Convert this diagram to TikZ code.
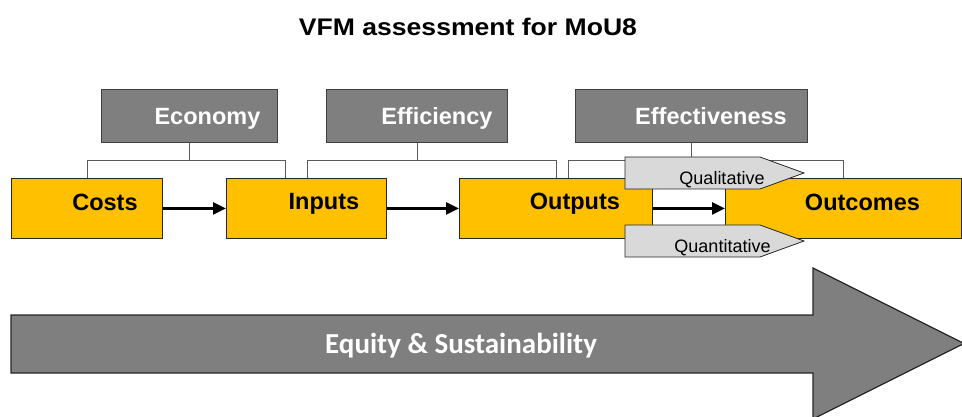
\documentclass[tikz,border=0pt]{standalone}
\usepackage{fontspec}
\setmainfont{Liberation Sans}
\newfontfamily\carlitofont{Carlito}
\usetikzlibrary{arrows.meta}
\definecolor{hdrgray}{HTML}{7F7F7F}
\definecolor{boxyellow}{HTML}{FFC000}
\definecolor{sigfill}{HTML}{D9D9D9}
\definecolor{edgegray}{HTML}{404040}
\definecolor{conngray}{HTML}{595959}
\begin{document}
\begin{tikzpicture}[x=1pt,y=-1pt,
  hdr/.style={draw=edgegray, fill=hdrgray, line width=0.9pt, minimum width=#1, minimum height=53pt, inner sep=0pt, anchor=north west},
  hlbl/.style={anchor=base, text=white, inner sep=0pt, font=\fontsize{23.5}{28}\selectfont\bfseries},
  ybox/.style={draw=black!85, fill=boxyellow, line width=0.9pt, minimum width=#1, minimum height=60pt, inner sep=0pt, anchor=north west},
  ylbl/.style={anchor=base, text=black, inner sep=0pt, font=\fontsize{23.5}{28}\selectfont\bfseries},
  conn/.style={draw=conngray, line width=0.9pt},
  flow/.style={draw=black, line width=2.7pt, -{Triangle[length=13pt,width=12pt]}},
  sig/.style={draw=black!85, fill=sigfill, line width=0.8pt},
  siglbl/.style={anchor=base, inner sep=0pt, font=\fontsize{18}{22}\selectfont},
  bigarrow/.style={draw=black!85, fill=hdrgray, line width=1.2pt}
]
\useasboundingbox (0,0) rectangle (962,417);
\clip (0,0) rectangle (962,417);

% title
\node[anchor=base, inner sep=0pt, font=\fontsize{24}{29}\selectfont\bfseries] (title) at (468,36) {\scalebox{1.107}[1]{VFM assessment for MoU8}};

% header boxes
\node[hdr=176pt] (econ) at (101,89) {};
\node[hdr=181pt] (eff) at (326,89) {};
\node[hdr=232pt] (effe) at (575,89) {};
\node[hlbl] (econT) at ([xshift=18pt,yshift=-8.5pt]econ.center) {Economy};
\node[hlbl] (effT) at ([xshift=20pt,yshift=-8.5pt]eff.center) {Efficiency};
\node[hlbl] (effeT) at ([xshift=19.5pt,yshift=-8.5pt]effe.center) {Effectiveness};

\coordinate (bus) at (0,160);
\path (11,178) coordinate (costsNW) (226,178) coordinate (inputsNW)
      (459,178) coordinate (outputsNW) (725,178) coordinate (outcomesNW);

% invisible placeholders for connector ends
\node[ybox=151pt, draw=none, fill=none] (costs) at (costsNW) {};
\node[ybox=160pt, draw=none, fill=none] (inputs) at (inputsNW) {};
\node[ybox=193pt, draw=none, fill=none] (outputs) at (outputsNW) {};
\node[ybox=236pt, draw=none, fill=none] (outcomes) at (outcomesNW) {};

\draw[conn] (econ.south) -- (econ.south |- bus);
\draw[conn] (costs.north) -- (costs.north |- bus) -- ([xshift=-21pt]inputs.north |- bus) -- ([xshift=-21pt]inputs.north);
\draw[conn] (eff.south) -- (eff.south |- bus);
\draw[conn] ([xshift=1pt]inputs.north) -- ([xshift=1pt]inputs.north |- bus) -- (outputs.north |- bus) -- (outputs.north);
\draw[conn] (effe.south) -- (effe.south |- bus);
\draw[conn] ([xshift=12.5pt]outputs.north) -- ([xshift=12.5pt]outputs.north |- bus) -- (outcomes.north |- bus) -- (outcomes.north);

% visible stage boxes
\node[ybox=151pt] (costsB) at (costsNW) {};
\node[ybox=160pt] (inputsB) at (inputsNW) {};
\node[ybox=193pt] (outputsB) at (outputsNW) {};
\node[ybox=236pt] (outcomesB) at (outcomesNW) {};
\node[ylbl] (costsT) at ([xshift=18pt,yshift=-2pt]costsB.center) {Costs};
\node[ylbl] (inputsT) at ([xshift=17.5pt,yshift=-1.5pt]inputsB.center) {Inputs};
\node[ylbl] (outputsT) at ([xshift=19pt,yshift=-1.5pt]outputsB.center) {Outputs};
\node[ylbl] (outcomesT) at ([xshift=19pt,yshift=-2pt]outcomesB.center) {Outcomes};

% flow arrows
\draw[flow] (costsB.east) -- (inputsB.west);
\draw[flow] (inputsB.east) -- (outputsB.west);
\draw[flow] (outputsB.east) -- (outcomesB.west);

% qualitative / quantitative tags
\draw[sig] (625,157) -- (760,157) -- (804,173) -- (760,189) -- (625,189) -- cycle;
\node[siglbl] (qual) at (722,185) {Qualitative};
\draw[sig] (625,225) -- (760,225) -- (804,241) -- (760,257) -- (625,257) -- cycle;
\node[siglbl] (quant) at (722.5,252) {Quantitative};

% big arrow
\draw[bigarrow] (11,315) -- (813,315) -- (813,268) -- (964,343.5) -- (813,419) -- (813,373) -- (11,373) -- cycle;
\node[anchor=base, inner sep=0pt, text=white, font=\carlitofont\fontsize{29}{35}\selectfont\bfseries] (equity) at (461,353) {Equity \& Sustainability};
\end{tikzpicture}
\end{document}
